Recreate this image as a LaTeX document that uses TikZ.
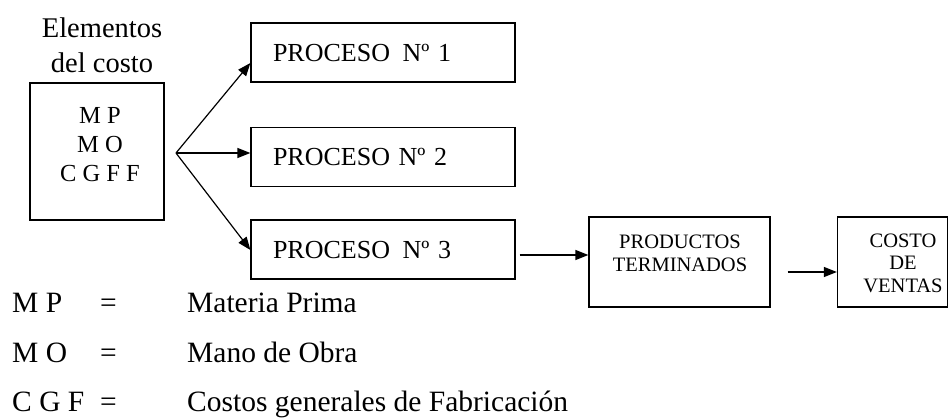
\documentclass[tikz,border=0pt]{standalone}
\usepackage{fontspec}
\setmainfont{Liberation Serif}
\usetikzlibrary{arrows.meta,positioning}
\tikzset{
  boxnode/.style={draw,line width=1.2pt,inner sep=0pt},
  procbox/.style={boxnode,minimum width=264pt,minimum height=59pt,text width=220pt,align=left,font=\fontsize{26}{28}\selectfont},
  smallbox/.style={boxnode,align=center,font=\fontsize{20.5}{22.5}\selectfont},
  arr/.style={line width=1.2pt,-{Triangle[length=13pt,width=10pt]}},
  legtxt/.style={anchor=base west,inner sep=0pt,font=\fontsize{29.5}{30}\selectfont}
}
\begin{document}
\begin{tikzpicture}[x=1pt,y=-1pt]
\useasboundingbox (0,0) rectangle (948,418);
% title
\node[align=center,inner sep=0pt,anchor=base,font=\fontsize{28.5}{35}\selectfont] (title) at (102,72) {Elementos\\del costo};
% elements box
\node[boxnode,minimum width=134pt,minimum height=137pt] (elem) at (97,151.5) {};
\node[align=center,inner sep=0pt,anchor=base,font=\fontsize{24.5}{29}\selectfont] (elemtxt) at (100,181) {M P\\M O\\C G F F};
\coordinate (fan) at (176,153);
% process boxes
\node[procbox] (p1) at (383,52.5) {PROCESO\hspace{4pt} Nº 1};
\node[procbox] (p2) at (383,157) {PROCESO Nº 2};
\node[procbox] (p3) at (383,249.5) {PROCESO\hspace{4pt} Nº 3};
% products / cost boxes
\node[smallbox,minimum width=181pt,minimum height=90pt] (prod) at (679.5,262) {};
\node[align=center,inner sep=0pt,anchor=base,font=\fontsize{20.5}{23}\selectfont] (prodtxt) at (680,271) {PRODUCTOS\\TERMINADOS};
\node[smallbox,minimum width=110pt,minimum height=90pt] (costo) at (892.5,262) {};
\node[align=center,inner sep=0pt,anchor=base,font=\fontsize{20.5}{22.5}\selectfont] (costotxt) at (903,292) {COSTO\\DE\\VENTAS};
% arrows
\draw[arr] (fan) -- ([yshift=-10.5pt]p1.west);
\draw[arr] (fan) -- ([yshift=4pt]p2.west);
\draw[arr] (fan) -- ([yshift=-0.5pt]p3.west);
\draw[arr] ([xshift=4pt,yshift=-5.5pt]p3.east) -- ([yshift=7pt]prod.west);
\draw[arr] ([xshift=17pt,yshift=-10pt]prod.east) -- ([yshift=-10pt]costo.west);
% legend
\node[legtxt] (l1a) at (12,312) {M P};
\node[legtxt] (l1b) at (100,312) {=};
\node[legtxt] (l1c) at (187,312) {Materia Prima};
\node[legtxt] (l2a) at (12,362) {M O};
\node[legtxt] (l2b) at (100,362) {=};
\node[legtxt] (l2c) at (187,362) {Mano de Obra};
\node[legtxt] (l3a) at (12,411) {C G F};
\node[legtxt] (l3b) at (100,411) {=};
\node[legtxt] (l3c) at (187,411) {Costos generales de Fabricación};
\end{tikzpicture}
\end{document}
